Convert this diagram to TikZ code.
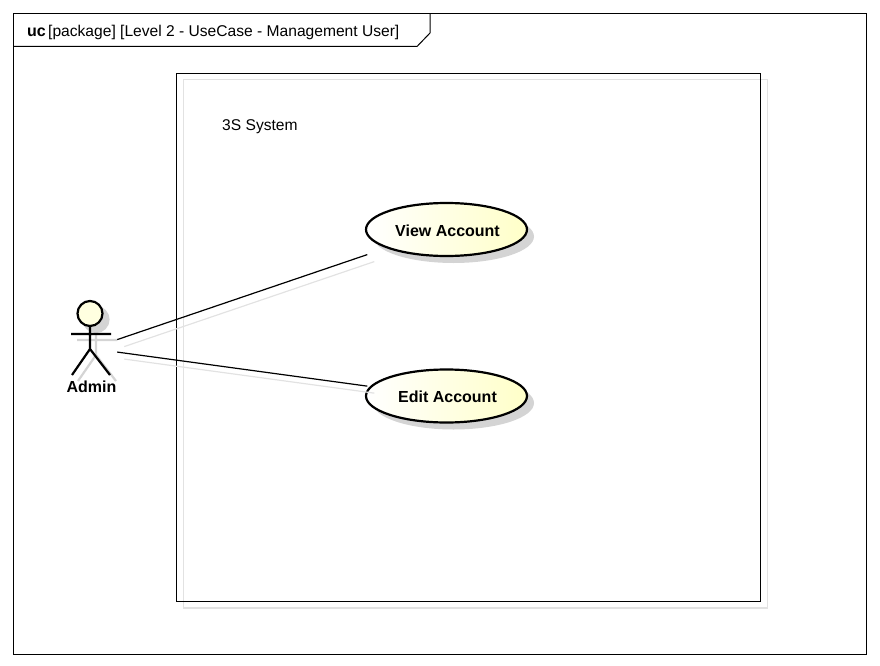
\documentclass[tikz,border=0pt]{standalone}
\usepackage{fontspec}
\setmainfont{Liberation Sans}
\definecolor{shadowgray}{HTML}{D4D4D4}
\definecolor{lineshadow}{HTML}{E2E2E2}
\definecolor{casefill}{HTML}{FFFFC8}
\definecolor{headfill}{HTML}{FFFFE0}
\tikzset{
  framebox/.style={draw=black, line width=1pt},
  sysshadow/.style={draw=lineshadow, line width=1.2pt},
  caseshadow/.style={fill=shadowgray},
  caseshape/.style={draw=black, line width=2.2pt, left color=white, right color=casefill},
  casetext/.style={draw=none, rectangle, minimum width=160pt, minimum height=54pt, inner sep=0pt,
    font=\fontsize{16}{18}\selectfont\bfseries},
  actorbox/.style={draw=none, rectangle, minimum width=52pt, minimum height=82pt, inner sep=0pt},
  assoc/.style={draw=black, line width=1.2pt},
  assocshadow/.style={draw=lineshadow, line width=1.2pt, transform canvas={xshift=7pt, yshift=-7pt}},
  plaintext/.style={inner sep=0pt, font=\fontsize{15.6}{18}\selectfont},
}
\newcommand{\actorfig}[2]{
  \draw[draw=#1, line width=2.2pt, fill=#2] (90,313.5) circle (12.5);
  \draw[draw=#1, line width=2.2pt] (90,326) -- (90,349) (71,334) -- (111,334)
    (72,375) -- (90,349) -- (110,375);
}
\begin{document}
\begin{tikzpicture}[x=1pt, y=-1pt]
\useasboundingbox (0,0) rectangle (880,666);
% frame and title tab
\draw[framebox] (13.5,13.5) rectangle (866.5,654);
\draw[framebox] (13.5,46.5) -- (417,46.5) -- (430,33) -- (430,13.5);
\node[plaintext, font=\fontsize{16}{18}\selectfont, anchor=base west] (ucmark) at (27,36.5) {\textbf{uc}};
\node[plaintext, anchor=base west] (titletext) at (48,36.5) {[package] [Level 2 - UseCase - Management User]};
% system boundary
\draw[sysshadow] (183.5,79.5) rectangle (767.5,608);
\draw[framebox] (176.5,73.5) rectangle (760.5,601.5);
\node[plaintext, anchor=base west] (systemname) at (222,131) {3S System};
% use cases
\coordinate (viewc) at (446.5,229.5);
\coordinate (editc) at (446.5,396);
\foreach \casec in {viewc, editc} {
  \fill[caseshadow] ([xshift=7pt, yshift=-7pt]\casec) ellipse (80.5 and 26.5);
  \draw[caseshape] (\casec) ellipse (80.5 and 26.5);
}
\node[casetext] (view) at ([xshift=1pt, yshift=2pt]viewc) {\raisebox{-3pt}[\height][\depth]{View Account}};
\node[casetext] (edit) at ([xshift=1pt, yshift=-1pt]editc) {Edit Account};
% actor
\begin{scope}[shift={(6,6)}]
\actorfig{shadowgray}{shadowgray}
\end{scope}
\actorfig{black}{headfill}
\node[actorbox] (admin) at (91,348.5) {};
\node[plaintext, font=\fontsize{16}{18}\selectfont\bfseries, anchor=base] (adminname) at (91.5,392) {Admin};
% associations
\draw[assocshadow] (admin) -- (view);
\draw[assocshadow] (admin) -- (edit);
\draw[assoc] (admin) -- (view);
\draw[assoc] (admin) -- (edit);
\end{tikzpicture}
\end{document}
